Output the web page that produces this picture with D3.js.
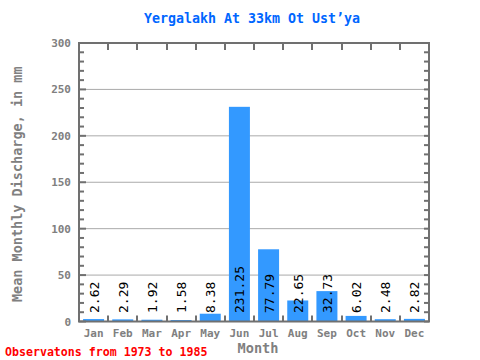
<!DOCTYPE html>
<html><head><meta charset="utf-8">
<script src="https://cdn.jsdelivr.net/npm/d3@7"></script>
<style>body{margin:0;background:#fff}svg{display:block}</style>
</head><body><svg id="c" width="480" height="360"></svg>
<script>
const months = ["Jan","Feb","Mar","Apr","May","Jun","Jul","Aug","Sep","Oct","Nov","Dec"];
const values = [2.62,2.29,1.92,1.58,8.38,231.25,77.79,22.65,32.73,6.02,2.48,2.82];
const yTicks = [0,50,100,150,200,250,300];
const title = "Yergalakh At 33km Ot Ust’ya";
const yTitle = "Mean Monthly Discharge, in mm";
const xTitle = "Month";
const footer = "Observatons from 1973 to 1985";

const svg = d3.select("#c");
const L=79, R=429, T=43, B=321.5;
const font = "'DejaVu Sans Mono', monospace";
const axisCol = "#707070";
const x = d3.scaleBand().domain(months).range([L,R]).paddingInner(0.28).paddingOuter(0.14);
const xb = d3.scaleLinear().domain([0,12]).range([L,R]);
const y = d3.scaleLinear().domain([0,300]).range([B,T]);

// grid
svg.append("g").selectAll("line").data(yTicks.filter(d=>d>0&&d<300)).join("line")
  .attr("x1",L).attr("x2",R).attr("y1",d=>y(d)).attr("y2",d=>y(d))
  .attr("stroke","#aaa").attr("stroke-width",1);

// bars
svg.append("g").selectAll("rect").data(values).join("rect")
  .attr("x",(d,i)=>x(months[i])).attr("width",x.bandwidth())
  .attr("y",d=>y(d)).attr("height",d=>B-y(d)).attr("fill","#3399ff");

// minor ticks left & right
const minor = d3.range(0,301,10);
svg.append("g").selectAll("line").data(minor).join("line")
  .attr("x1",L).attr("x2",d=>d%50===0?L+7:L+5).attr("y1",d=>y(d)).attr("y2",d=>y(d))
  .attr("stroke",axisCol).attr("stroke-width",2);
svg.append("g").selectAll("line").data(minor).join("line")
  .attr("x1",R).attr("x2",R-5).attr("y1",d=>y(d)).attr("y2",d=>y(d))
  .attr("stroke",axisCol).attr("stroke-width",2);
// month boundary ticks
const bnds = d3.range(1,12);
svg.append("g").selectAll("line").data(bnds).join("line")
  .attr("x1",d=>Math.round(xb(d))).attr("x2",d=>Math.round(xb(d))).attr("y1",B).attr("y2",B-6)
  .attr("stroke",axisCol).attr("stroke-width",2);
svg.append("g").selectAll("line").data(bnds).join("line")
  .attr("x1",d=>Math.round(xb(d))).attr("x2",d=>Math.round(xb(d))).attr("y1",T).attr("y2",T+7)
  .attr("stroke",axisCol).attr("stroke-width",2);

// frame
svg.append("rect").attr("x",L).attr("y",T).attr("width",R-L).attr("height",B-T)
  .attr("fill","none").attr("stroke",axisCol).attr("stroke-width",2);

// y tick labels
svg.append("g").selectAll("text").data(yTicks).join("text")
  .attr("x",L-8).attr("y",d=>y(d)+4).attr("text-anchor","end")
  .attr("font-family",font).attr("font-size",11).attr("font-weight","bold").attr("fill","#808080")
  .text(d=>d);
// x tick labels
svg.append("g").selectAll("text").data(months).join("text")
  .attr("x",d=>x(d)+x.bandwidth()/2).attr("y",337).attr("text-anchor","middle")
  .attr("font-family",font).attr("font-size",11).attr("font-weight","bold").attr("fill","#808080")
  .text(d=>d);

// value labels
svg.append("g").selectAll("text").data(values).join("text")
  .attr("transform",(d,i)=>`translate(${x(months[i])+x.bandwidth()/2+5},313) rotate(-90)`)
  .attr("font-family",font).attr("font-size",13).attr("fill","#000")
  .text(d=>d.toFixed(2));

// titles
svg.append("text").attr("x",252).attr("y",22.5).attr("text-anchor","middle")
  .attr("font-family",font).attr("font-size",13.3).attr("font-weight","bold").attr("fill","#0066ff").text(title);
svg.append("text").attr("transform",`translate(22,${(T+B)/2+2}) rotate(-90)`).attr("text-anchor","middle")
  .attr("font-family",font).attr("font-size",13.5).attr("font-weight","bold").attr("fill","#808080").text(yTitle);
svg.append("text").attr("x",258).attr("y",352.5).attr("text-anchor","middle")
  .attr("font-family",font).attr("font-size",13.6).attr("font-weight","bold").attr("fill","#808080").text(xTitle);
svg.append("text").attr("x",5).attr("y",356)
  .attr("font-family",font).attr("font-size",11.6).attr("font-weight","bold").attr("fill","#ff0000").text(footer);
</script></body></html>
